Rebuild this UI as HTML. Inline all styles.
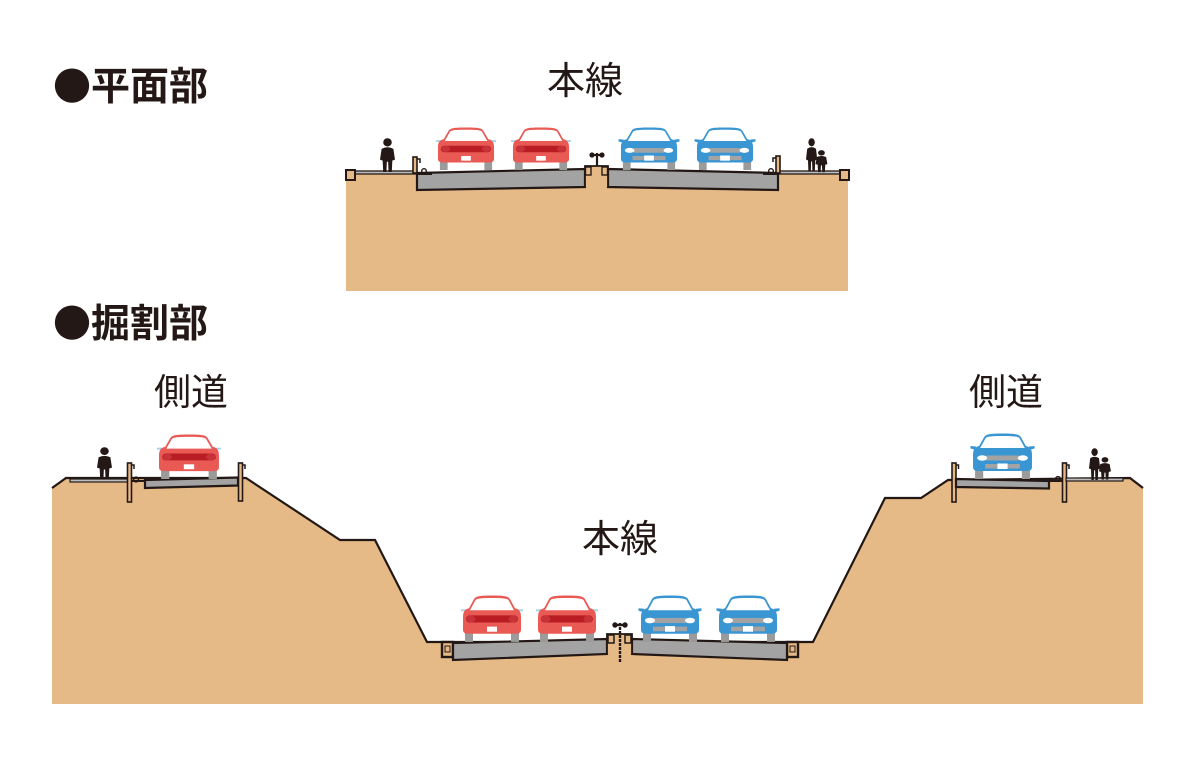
<!DOCTYPE html>
<html>
<head>
<meta charset="utf-8">
<style>
  html,body{margin:0;padding:0;background:#fff;}
  body{width:1200px;height:760px;overflow:hidden;}
  svg{display:block;}
  .t{font-family:"Liberation Sans","Noto Sans CJK JP",sans-serif;fill:#231815;}
  .b{font-family:"Noto Sans CJK JP",sans-serif;fill:#231815;}
</style>
</head>
<body>
<svg width="1200" height="760" viewBox="0 0 1200 760" xmlns="http://www.w3.org/2000/svg">
  <defs>
    <g id="redcar">
      <rect x="3" y="35" width="8" height="11" fill="#9b9b9b"/>
      <rect x="49" y="35" width="8" height="11" fill="#9b9b9b"/>
      <rect x="-1" y="14" width="5" height="2" fill="#a9d3e8"/>
      <rect x="56" y="14" width="5" height="2" fill="#a9d3e8"/>
      <path d="M1,22 C1,16 3,14 7,13 L12,4 C14,1 18,0.5 30,0.5 C42,0.5 46,1 48,4 L53,13 C57,14 59,16 59,22 L59,34 C59,37 57,38 54,38 L6,38 C3,38 1,37 1,34 Z" fill="#e95a55"/>
      <path d="M8,15 L13.5,5 C15,3.5 19,3 30,3 C41,3 45,3.5 46.5,5 L52,15 Z" fill="#ffffff"/>
      <rect x="4" y="20" width="52" height="7" rx="3.5" fill="#b91c23"/>
      <ellipse cx="9" cy="23.5" rx="4.5" ry="3.3" fill="#c8333a"/>
      <ellipse cx="51" cy="23.5" rx="4.5" ry="3.3" fill="#c8333a"/>
      <rect x="25" y="31" width="10" height="5" fill="#ffffff"/>
    </g>
    <g id="bluecar">
      <rect x="3" y="35" width="8" height="11" fill="#9b9b9b"/>
      <rect x="49" y="35" width="8" height="11" fill="#9b9b9b"/>
      <path d="M4,13.5 L-1.5,13 L-1.5,15.5 L4,17 Z" fill="#3a96d3"/>
      <path d="M56,13.5 L61.5,13 L61.5,15.5 L56,17 Z" fill="#3a96d3"/>
      <path d="M1,22 C1,16 3,14 7,13 L12,4 C14,1 18,0.5 30,0.5 C42,0.5 46,1 48,4 L53,13 C57,14 59,16 59,22 L59,34 C59,37 57,38 54,38 L6,38 C3,38 1,37 1,34 Z" fill="#3a96d3"/>
      <path d="M8,15 L13.5,5 C15,3.5 19,3 30,3 C41,3 45,3.5 46.5,5 L52,15 Z" fill="#ffffff"/>
      <rect x="14" y="22.5" width="32" height="5" fill="#a3a3a3"/>
      <ellipse cx="10" cy="25" rx="5" ry="2.7" fill="#ffffff"/>
      <ellipse cx="50" cy="25" rx="5" ry="2.7" fill="#ffffff"/>
      <rect x="13" y="31" width="34" height="4.5" fill="#a3a3a3"/>
      <rect x="25" y="30.5" width="10" height="5.5" fill="#ffffff"/>
    </g>
    <g id="person" fill="#231815">
      <circle cx="7" cy="4.2" r="4"/>
      <path d="M1.5,10.5 Q7,7.5 12.5,10.5 L14,21 L11.5,22 L11,33 L8,33 L7.6,23 L6.4,23 L6,33 L3,33 L2.5,22 L0,21 Z"/>
    </g>
  </defs>

  <!-- ================= TOP SECTION ================= -->
  <rect x="346" y="173" width="502" height="118" fill="#e6ba86"/>
  <rect x="352" y="171" width="65" height="3" fill="#bdbdbd" stroke="#231815" stroke-width="1.3"/>
  <rect x="346" y="170" width="9" height="10" fill="#e6ba86" stroke="#231815" stroke-width="2"/>
  <rect x="778" y="171" width="63" height="3" fill="#bdbdbd" stroke="#231815" stroke-width="1.3"/>
  <rect x="840" y="170" width="9" height="10" fill="#e6ba86" stroke="#231815" stroke-width="2"/>
  <polygon points="417,173 585,169 585,187 417,190" fill="#a3a3a3" stroke="#231815" stroke-width="2.2"/>
  <polygon points="608,169 778,173 778,190 608,187" fill="#a3a3a3" stroke="#231815" stroke-width="2.2"/>
  <line x1="417" y1="174" x2="432" y2="174" stroke="#231815" stroke-width="2"/>
  <circle cx="424" cy="171" r="2.3" fill="none" stroke="#231815" stroke-width="1.4"/>
  <line x1="763" y1="174" x2="778" y2="174" stroke="#231815" stroke-width="2"/>
  <circle cx="771" cy="171" r="2.3" fill="none" stroke="#231815" stroke-width="1.4"/>
  <path d="M585,187 L585,166 L608,166 L608,187" fill="#e6ba86" stroke="#231815" stroke-width="1.8"/>
  <rect x="585.5" y="167" width="5.5" height="8" fill="#e6ba86" stroke="#231815" stroke-width="1.4"/>
  <rect x="602" y="167" width="5.5" height="8" fill="#e6ba86" stroke="#231815" stroke-width="1.4"/>
  <g stroke="#231815" stroke-width="2.2" fill="#231815">
    <line x1="597" y1="153" x2="597" y2="166"/>
    <line x1="592" y1="155" x2="602" y2="155"/>
    <circle cx="592" cy="155" r="1.5"/>
    <circle cx="602" cy="155" r="1.5"/>
  </g>
  <rect x="413" y="157" width="4" height="16" fill="#e6ba86" stroke="#231815" stroke-width="1.6"/>
  <path d="M417,159 L420,159 L420,163" fill="none" stroke="#231815" stroke-width="1.5"/>
  <rect x="776" y="156" width="4" height="17" fill="#e6ba86" stroke="#231815" stroke-width="1.6"/>
  <path d="M776,158 L773,158 L773,162" fill="none" stroke="#231815" stroke-width="1.5"/>
  <use href="#person" transform="translate(380,138) scale(1.07,1.03)"/>
  <use href="#person" transform="translate(806,138) scale(0.8,1.02)"/>
  <use href="#person" transform="translate(815.5,150) scale(0.85,0.67)"/>
  <use href="#redcar" transform="translate(437,127) scale(0.967,0.935)"/>
  <use href="#redcar" transform="translate(512,127) scale(0.967,0.935)"/>
  <use href="#bluecar" transform="translate(620,127) scale(0.967,0.935)"/>
  <use href="#bluecar" transform="translate(696,127) scale(0.967,0.935)"/>

  <!-- ================= BOTTOM SECTION ================= -->
  <polygon points="52,488 66,478 246,478 340,540 375,540 427,642 813,642 885,498 921,498 948,480 1130,478 1143,488 1143,704 52,704" fill="#e6ba86"/>
  <polyline points="52,488 66,478 246,478 340,540 375,540 427,642 813,642 885,498 921,498 948,480 1130,478 1143,488" fill="none" stroke="#231815" stroke-width="2.2"/>

  <!-- left side road -->
  <rect x="70" y="479" width="58" height="3" fill="#bdbdbd" stroke="#231815" stroke-width="1.2"/>
  <circle cx="136" cy="479.5" r="2.4" fill="none" stroke="#231815" stroke-width="1.4"/>
  <line x1="132" y1="481" x2="145" y2="481" stroke="#231815" stroke-width="2"/>
  <polygon points="145,480 238,477.5 238,485.5 145,488" fill="#a3a3a3" stroke="#231815" stroke-width="2.2"/>
  <rect x="127.5" y="463" width="4" height="39" fill="#e6ba86" stroke="#231815" stroke-width="1.6"/>
  <path d="M131.5,465 L134,465 L134,469" fill="none" stroke="#231815" stroke-width="1.5"/>
  <rect x="238.5" y="463" width="4" height="38" fill="#e6ba86" stroke="#231815" stroke-width="1.6"/>
  <path d="M242.5,465 L245,465 L245,469" fill="none" stroke="#231815" stroke-width="1.5"/>
  <use href="#person" transform="translate(97,447) scale(1.07,0.98)"/>
  <use href="#redcar" transform="translate(158,434) scale(1.033,0.978)"/>

  <!-- right side road -->
  <rect x="952" y="463" width="4" height="39" fill="#e6ba86" stroke="#231815" stroke-width="1.6"/>
  <path d="M956,465 L958.5,465 L958.5,469" fill="none" stroke="#231815" stroke-width="1.5"/>
  <polygon points="956,479 1049,481 1049,488.5 956,487" fill="#a3a3a3" stroke="#231815" stroke-width="2.2"/>
  <line x1="1049" y1="481" x2="1063" y2="481" stroke="#231815" stroke-width="2"/>
  <circle cx="1058" cy="479" r="2.4" fill="none" stroke="#231815" stroke-width="1.4"/>
  <rect x="1062.5" y="463" width="4" height="39" fill="#e6ba86" stroke="#231815" stroke-width="1.6"/>
  <path d="M1066.5,465 L1069,465 L1069,469" fill="none" stroke="#231815" stroke-width="1.5"/>
  <rect x="1066" y="478" width="57" height="3" fill="#bdbdbd" stroke="#231815" stroke-width="1.2"/>
  <use href="#person" transform="translate(1089,448) scale(0.8,0.97)"/>
  <use href="#person" transform="translate(1099,457) scale(0.85,0.68)"/>
  <use href="#bluecar" transform="translate(972,433) scale(1.017,1.0)"/>

  <!-- main road bottom -->
  <rect x="442" y="642" width="11" height="15" fill="#e6ba86" stroke="#231815" stroke-width="2.4"/>
  <rect x="445" y="646" width="5" height="6" fill="#e6ba86" stroke="#231815" stroke-width="1"/>
  <rect x="787" y="642" width="11" height="15" fill="#e6ba86" stroke="#231815" stroke-width="2.4"/>
  <rect x="790" y="646" width="5" height="6" fill="#e6ba86" stroke="#231815" stroke-width="1"/>
  <polygon points="453,643 607,639 607,654 453,660" fill="#a3a3a3" stroke="#231815" stroke-width="2.2"/>
  <polygon points="632,639 787,643 787,660 632,654" fill="#a3a3a3" stroke="#231815" stroke-width="2.2"/>
  <path d="M607,654 L607,634 L632,634 L632,654" fill="#e6ba86" stroke="#231815" stroke-width="1.8"/>
  <rect x="608" y="635" width="6" height="8" fill="#e6ba86" stroke="#231815" stroke-width="1.5"/>
  <rect x="625" y="635" width="6" height="8" fill="#e6ba86" stroke="#231815" stroke-width="1.5"/>
  <g stroke="#231815" stroke-width="2.4" fill="#231815">
    <line x1="620" y1="623" x2="620" y2="662" stroke-dasharray="3,1"/>
    <line x1="615" y1="625" x2="625" y2="625"/>
    <circle cx="615" cy="625" r="1.5"/>
    <circle cx="625" cy="625" r="1.5"/>
  </g>
  <use href="#redcar" transform="translate(462,595) scale(1,1.02)"/>
  <use href="#redcar" transform="translate(537,595) scale(1,1.02)"/>
  <use href="#bluecar" transform="translate(640,595) scale(1,1.02)"/>
  <use href="#bluecar" transform="translate(718,595) scale(1,1.02)"/>

  <!-- ================= TEXT ================= -->
  <text class="b" x="53" y="100" font-size="38">●</text>
  <text class="t" x="91" y="100" font-size="39" font-weight="700">平面部</text>
  <text class="b" x="53" y="337" font-size="38">●</text>
  <text class="t" x="91" y="337" font-size="39" font-weight="700">掘割部</text>
  <text class="t" x="547" y="94" font-size="38">本線</text>
  <text class="t" x="582" y="552" font-size="38">本線</text>
  <text class="t" x="154" y="405" font-size="37">側道</text>
  <text class="t" x="969" y="405" font-size="37">側道</text>
</svg>
</body>
</html>
